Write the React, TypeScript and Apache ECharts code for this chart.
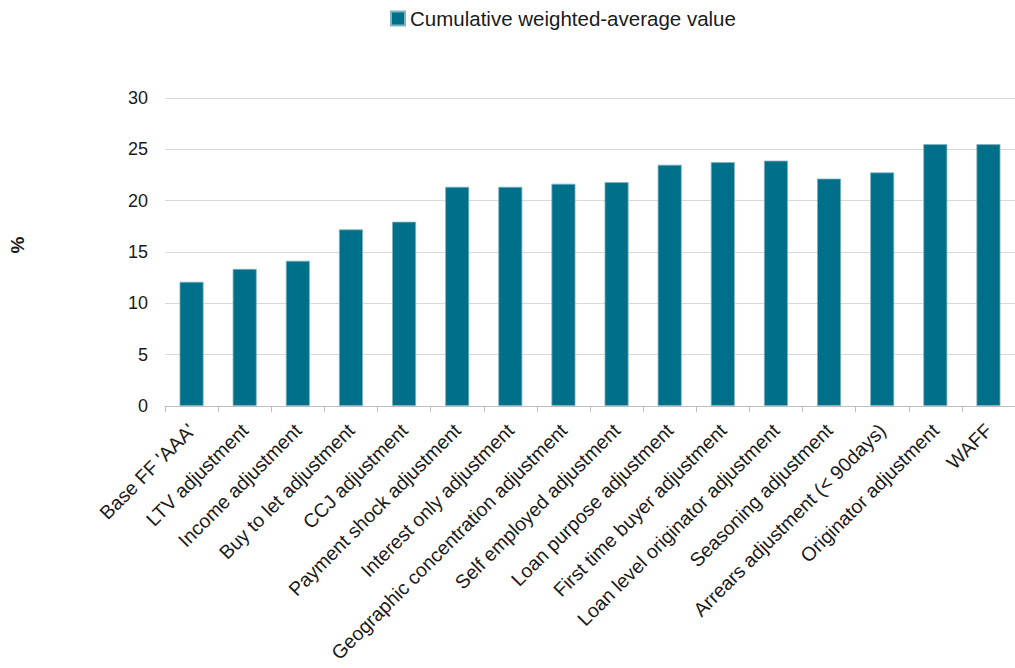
import React, { useEffect, useRef } from "react";
import * as echarts from "echarts";

const categories = [
  "Base FF 'AAA'",
  "LTV adjustment",
  "Income adjustment",
  "Buy to let adjustment",
  "CCJ adjustment",
  "Payment shock adjustment",
  "Interest only adjustment",
  "Geographic concentration adjustment",
  "Self employed adjustment",
  "Loan purpose adjustment",
  "First time buyer adjustment",
  "Loan level originator adjustment",
  "Seasoning adjustment",
  "Arrears adjustment (< 90days)",
  "Originator adjustment",
  "WAFF",
];

const values = [12.1, 13.35, 14.15, 17.2, 17.95, 21.35, 21.35, 21.65, 21.8, 23.5, 23.75, 23.9, 22.15, 22.75, 25.5, 25.5];

const seriesName = "Cumulative weighted-average value";
const FONT = "'Liberation Sans', Arial, sans-serif";

export default function App() {
  const ref = useRef<HTMLDivElement>(null);
  useEffect(() => {
    if (!ref.current) return;
    const chart = echarts.init(ref.current, undefined, { renderer: "svg" });
    chart.setOption({
      animation: false,
      textStyle: { fontFamily: FONT },
      legend: {
        data: [seriesName],
        top: 3,
        left: 385,
        itemWidth: 14,
        itemHeight: 14,
        icon: "rect",
        textStyle: { fontSize: 20.5, color: "#1a1a1a", fontFamily: FONT },
      },
      grid: { left: 160, top: 98, width: 864, bottom: 262, containLabel: false },
      xAxis: {
        type: "category",
        data: categories,
        axisLine: { lineStyle: { color: "#bfbfbf", width: 1 } },
        axisTick: { show: true, length: 6, lineStyle: { color: "#bfbfbf" } },
        axisLabel: {
          rotate: 45,
          interval: 0,
          fontSize: 19.5,
          color: "#1a1a1a",
          margin: 21,
          fontFamily: FONT,
        },
      },
      yAxis: {
        type: "value",
        min: 0,
        max: 30,
        interval: 5,
        name: "%",
        nameLocation: "middle",
        nameGap: 138,
        nameRotate: 90,
        nameTextStyle: {
          fontSize: 19,
          fontWeight: "bold",
          color: "#1a1a1a",
          fontFamily: FONT,
          padding: [0, 0, 0, 14],
        },
        axisLine: { show: false },
        axisTick: { show: false },
        axisLabel: { fontSize: 18, color: "#1a1a1a", margin: 17, fontFamily: FONT },
        splitLine: { lineStyle: { color: "#d9d9d9", width: 1 } },
      },
      series: [
        {
          name: seriesName,
          type: "bar",
          data: values,
          barWidth: 24,
          itemStyle: { color: "#006f89", borderColor: "#7fb3c2", borderWidth: 0.8 },
        },
      ],
    });
    return () => chart.dispose();
  }, []);
  return (
    <div
      ref={ref}
      style={{ position: "fixed", left: 0, top: 0, width: 1015, height: 668, background: "#fff" }}
    />
  );
}
